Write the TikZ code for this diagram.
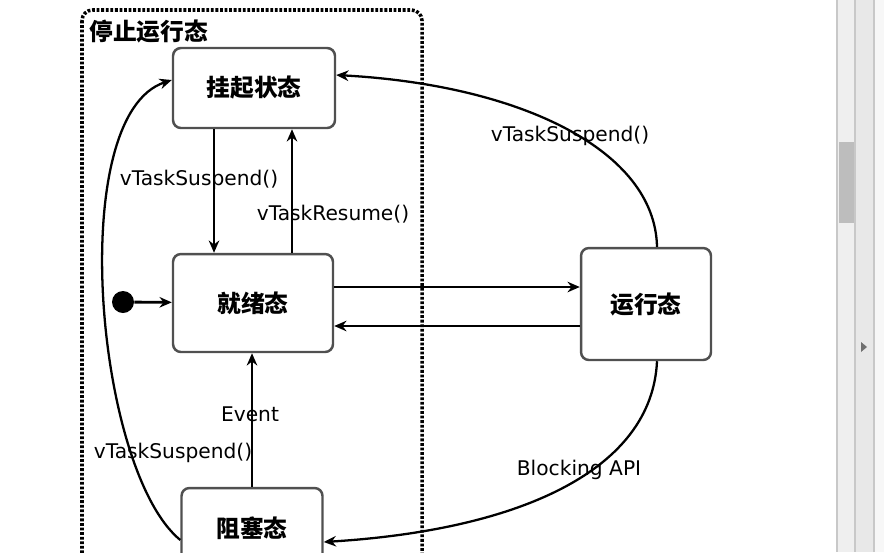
\documentclass[tikz,border=0pt]{standalone}
\usepackage{fontspec}
\setmainfont{DejaVu Sans}
\newfontfamily\cjk{Noto Sans CJK SC}
\usepackage{tikz}
\usetikzlibrary{arrows,shapes,positioning,calc}
\usepackage{xcolor}
\definecolor{edgegray}{RGB}{80,80,80}
\definecolor{barlight}{RGB}{239,239,239}
\definecolor{bardark}{RGB}{232,232,232}
\definecolor{barline}{RGB}{200,200,200}
\definecolor{barthumb}{RGB}{189,189,189}
\definecolor{bararrow}{RGB}{112,112,112}
\tikzstyle{arrow} = [line width=1.6pt,-{Stealth[length=7pt,width=6pt]},color=black]
\tikzstyle{curvearrow} = [line width=1.3pt,-{Stealth[length=7pt,width=6pt]},color=black]
\tikzstyle{statebox} = [draw=edgegray, line width=1.4pt, rounded corners=4.5pt, fill=white, font=\cjk\bfseries\fontsize{13.5}{15}\selectfont]
\tikzstyle{lbl} = [font=\fontsize{11.5}{13}\selectfont, inner sep=0pt]
\usetikzlibrary{arrows.meta}

\begin{document}
\begin{tikzpicture}[x=0.02cm, y=-0.02cm]
\clip (0,0) rectangle (884,552);
\fill[white] (0,0) rectangle (884,552);
% Scroll bar on the right
\fill[barlight] (837,0) rectangle (855,552);
\fill[bardark] (855,0) rectangle (874,552);
\fill[gray!6] (874,0) rectangle (884,552);
\draw[barline, line width=0.6pt] (837,0) -- (837,552);
\draw[barline, line width=0.6pt] (855,0) -- (855,552);
\draw[barline, line width=0.6pt] (874,0) -- (874,552);
\fill[barthumb] (839,142) rectangle (854,223);
\fill[bararrow] (861,342) -- (867,347) -- (861,352) -- cycle;

% Stopped region
\draw[line width=2pt, dash pattern=on 1.6pt off 1pt, rounded corners=6pt] (82,10) rectangle (422,600);
\node[anchor=west, font=\cjk\bfseries\fontsize{13.5}{15}\selectfont, inner sep=0pt] (stoptitle) at (89,31) {停止运行态};

% States
\node[statebox, minimum width=3.24cm, minimum height=1.6cm] (hang) at (254,88) {挂起状态};
\node[statebox, minimum width=3.2cm, minimum height=1.96cm] (ready) at (253,303) {就绪态};
\node[statebox, minimum width=2.6cm, minimum height=2.24cm] (run) at (646,304) {运行态};
\node[statebox, minimum width=2.82cm, minimum height=1.6cm] (block) at (252,528) {阻塞态};
\node[circle, fill=black, minimum size=0.44cm, inner sep=0pt] (init) at (123,302) {};

% Transitions
\draw[arrow] (init) -- (ready);
\draw[arrow] ([xshift=-0.8cm]hang.south) -- ([xshift=-0.8cm]hang.south |- ready.north);
\draw[arrow] ([xshift=0.78cm]ready.north) -- ([xshift=0.78cm]ready.north |- hang.south);
\draw[arrow] ([yshift=0.32cm]ready.east) -- ([yshift=0.32cm]ready.east -| run.west);
\draw[arrow] ([yshift=-0.44cm]run.west) -- ([yshift=-0.44cm]run.west -| ready.east);
\draw[arrow] (block.north) -- (block.north |- ready.south);
\draw[curvearrow] ([xshift=0.22cm]run.north) .. controls (655,150) and (520,85) .. ([yshift=0.26cm]hang.east);
\draw[curvearrow] ([xshift=0.22cm]run.south) .. controls (652,470) and (520,530) .. ([yshift=-0.28cm]block.east);
\draw[curvearrow] ([yshift=-0.24cm]block.west) .. controls (95,470) and (65,115) .. ([yshift=0.16cm]hang.west);

% Labels
\node[lbl] (lsusp1) at (199,180) {vTaskSuspend()};
\node[lbl] (lresume) at (333,214) {vTaskResume()};
\node[lbl] (lsusp2) at (570,136) {vTaskSuspend()};
\node[lbl] (lblock) at (579,470) {Blocking API};
\node[lbl] (levent) at (250,414) {Event};
\node[lbl] (lsusp3) at (173,453) {vTaskSuspend()};
\end{tikzpicture}
\end{document}
